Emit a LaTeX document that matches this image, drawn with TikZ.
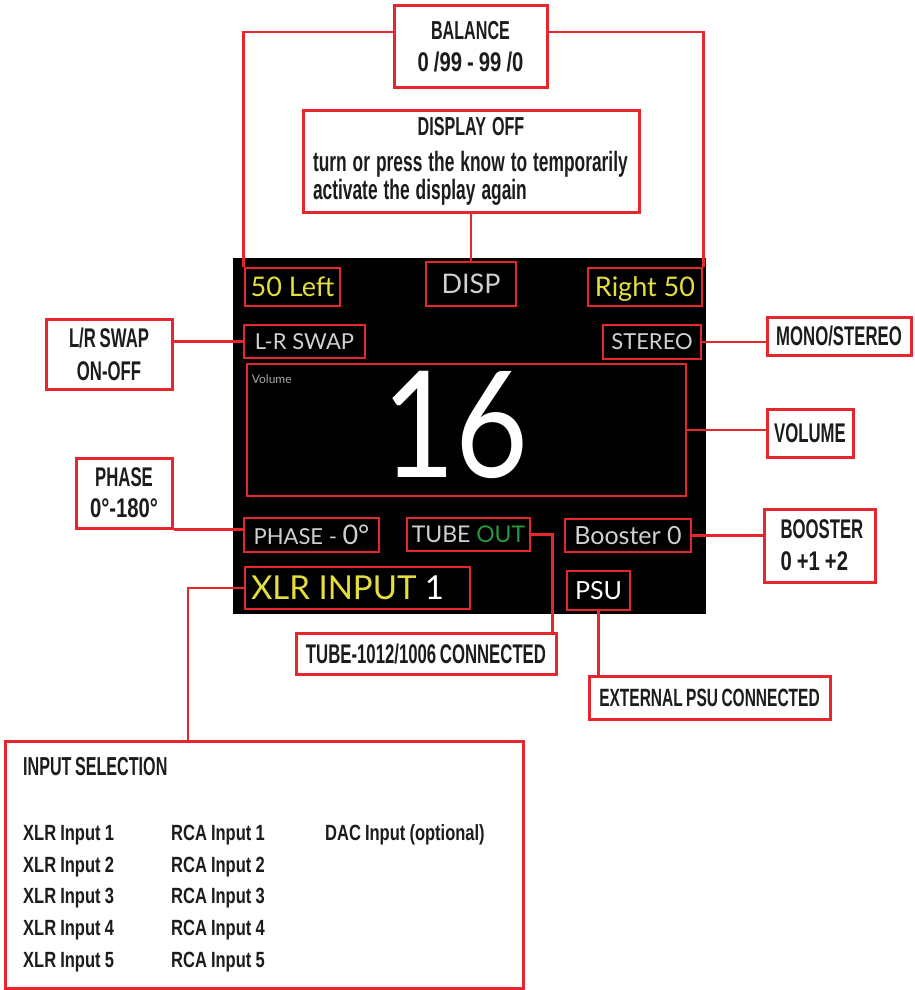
\documentclass[tikz,border=0pt]{standalone}
\usepackage{fontspec}
\usepackage{xcolor}
\usepackage{tikz}
\newfontfamily\capfont[FakeStretch=0.62, WordSpace=0.8]{Liberation Sans}
\newfontfamily\txtfont[FakeStretch=0.75, WordSpace=0.9]{Liberation Sans}
\newfontfamily\lcdfont{Lato}
\newfontfamily\numfont[FakeStretch=0.85]{Lato}
\definecolor{boxred}{RGB}{230,38,45}
\definecolor{lcdyellow}{RGB}{228,222,60}
\definecolor{lcdgrey}{RGB}{208,208,208}
\definecolor{lcdgreen}{RGB}{40,150,60}
\definecolor{inktext}{RGB}{28,28,28}

\begin{document}
\begin{tikzpicture}[x=1pt, y=-1pt,
    callout/.style={rectangle, draw=boxred, line width=3pt, fill=white, text=inktext, inner sep=2pt, align=center},
    lcdbox/.style={rectangle, draw=boxred, line width=2.6pt, inner sep=0pt, text=lcdgrey, text depth=0pt},
    wire/.style={draw=boxred, line width=2.6pt},
    listtxt/.style={anchor=base west, inner sep=0pt, text=inktext, font=\txtfont\bfseries\fontsize{22}{26}\selectfont}
]
\useasboundingbox (0,0) rectangle (915,990);

% Display screen
\fill[black] (233,258) rectangle (706,614);

% Display fields
\node[lcdbox, minimum width=95pt, minimum height=38pt, text=lcdyellow, text height=19.4pt, font=\lcdfont\fontsize{27}{30}\selectfont] (left50) at (292.5,287) {50 Left};
\node[lcdbox, minimum width=90pt, minimum height=44pt, text height=19.4pt, font=\lcdfont\fontsize{27}{30}\selectfont] (disp) at (471,284) {DISP};
\node[lcdbox, minimum width=114pt, minimum height=38pt, text=lcdyellow, text height=19.4pt, font=\lcdfont\fontsize{27}{30}\selectfont] (right50) at (645,287) {Right 50};
\node[lcdbox, minimum width=121pt, minimum height=33pt, text height=15.8pt, font=\lcdfont\fontsize{22}{26}\selectfont] (lrswap) at (304.5,341.5) {L-R SWAP};
\node[lcdbox, minimum width=98pt, minimum height=34pt, text height=15.8pt, font=\lcdfont\fontsize{22}{26}\selectfont] (stereo) at (652,342) {STEREO};
\node[lcdbox, minimum width=439pt, minimum height=132pt] (volbox) at (466.5,430) {};
\node[anchor=north west, inner sep=0pt, text=lcdgrey!80!black, font=\lcdfont\fontsize{12}{14}\selectfont] (voltag) at ([xshift=6pt,yshift=-12pt]volbox.north west) {Volume};
\node[inner sep=0pt, text=white, font=\numfont\fontsize{148}{148}\selectfont] (volnum) at (455,425) {16};
\node[lcdbox, minimum width=135pt, minimum height=34pt, text height=18pt, font=\lcdfont\fontsize{22}{26}\selectfont] (phasebox) at (311.5,535) {PHASE - {\fontsize{27}{30}\selectfont 0°}};
\node[lcdbox, minimum width=123pt, minimum height=33pt, text height=16.6pt, font=\lcdfont\fontsize{23}{26}\selectfont] (tubebox) at (468.5,534.5) {TUBE \textcolor{lcdgreen}{OUT}};
\node[lcdbox, minimum width=126pt, minimum height=33pt, text height=18pt, font=\lcdfont\fontsize{25}{28}\selectfont] (boostbox) at (628,535.5) {Booster 0};
\node[lcdbox, minimum width=225pt, minimum height=42pt, text width=213pt, align=left, text=lcdyellow, text height=23.8pt, font=\lcdfont\fontsize{33}{36}\selectfont] (xlrbox) at (357.5,588) {\spaceskip=0pt XLR INPUT \textcolor{white}{1}};
\node[lcdbox, minimum width=63pt, minimum height=39pt, text=white, text height=18pt, font=\lcdfont\fontsize{25}{28}\selectfont] (psubox) at (598.5,590.5) {PSU};

% Callout boxes
\node[callout, minimum width=153pt, minimum height=81pt, font=\txtfont\bfseries\fontsize{27}{32}\selectfont] (bal) at (470.5,46.5) {{\capfont\fontsize{26}{32}\selectfont BALANCE}\\0 /99 - 99 /0};
\node[callout, minimum width=336pt, minimum height=102pt, text width=316pt, align=left, font=\capfont\bfseries\fontsize{28}{28}\selectfont] (dispoff) at (471,161) {\spaceskip=6pt \makebox[316pt]{\fontsize{26}{28}\selectfont DISPLAY OFF}\\[8pt] turn or press the know to temporarily\\ activate the display again};
\node[callout, minimum width=126pt, minimum height=70pt, font=\capfont\bfseries\fontsize{27}{33}\selectfont] (lrlbl) at (109,354) {L/R SWAP\\ON-OFF};
\node[callout, minimum width=144pt, minimum height=38pt, font=\capfont\bfseries\fontsize{27}{32}\selectfont] (monolbl) at (839,336) {MONO/STEREO};
\node[callout, minimum width=86pt, minimum height=48pt, font=\capfont\bfseries\fontsize{27}{32}\selectfont] (vollbl) at (810,433) {VOLUME};
\node[callout, minimum width=96pt, minimum height=70pt, font=\capfont\bfseries\fontsize{27}{31}\selectfont] (phaselbl) at (124,493) {PHASE\\{\txtfont 0°-180°}};
\node[callout, minimum width=111pt, minimum height=73pt, text width=78pt, align=left, font=\capfont\bfseries\fontsize{27}{32}\selectfont] (boostlbl) at (819.5,545.5) {\spaceskip=0pt BOOSTER\\{\txtfont 0 +1 +2}};
\node[callout, minimum width=260pt, minimum height=41pt, font=\capfont\bfseries\fontsize{27}{32}\selectfont] (tubelbl) at (426,653.5) {TUBE-1012/1006 CONNECTED};
\node[callout, minimum width=241pt, minimum height=43pt, font=\capfont\bfseries\fontsize{25}{32}\selectfont] (psulbl) at (709.5,697.5) {EXTERNAL PSU CONNECTED};
\node[callout, minimum width=518pt, minimum height=247pt] (inputlbl) at (264,864.5) {};

% Input list
\node[listtxt, font=\capfont\bfseries\fontsize{26}{30}\selectfont] (intitle) at (23,775) {INPUT SELECTION};
\node[listtxt] (xlr1) at (23,840) {XLR Input 1};
\node[listtxt] (xlr2) at (23,872) {XLR Input 2};
\node[listtxt] (xlr3) at (23,903) {XLR Input 3};
\node[listtxt] (xlr4) at (23,935) {XLR Input 4};
\node[listtxt] (xlr5) at (23,967) {XLR Input 5};
\node[listtxt] (rca1) at (171,840) {RCA Input 1};
\node[listtxt] (rca2) at (171,872) {RCA Input 2};
\node[listtxt] (rca3) at (171,903) {RCA Input 3};
\node[listtxt] (rca4) at (171,935) {RCA Input 4};
\node[listtxt] (rca5) at (171,967) {RCA Input 5};
\node[listtxt] (dac) at (325,840) {DAC Input (optional)};

% Connectors
\draw[wire] ([yshift=14.5pt]bal.west) -| (left50.north west);
\draw[wire] ([yshift=14.5pt]bal.east) -| (right50.north east);
\draw[wire] (dispoff.south) -- (disp.north);
\draw[wire] (lrswap.west) -- (lrswap.west -| lrlbl.east);
\draw[wire] (stereo.east) -- (stereo.east -| monolbl.west);
\draw[wire] (volbox.east) -- (volbox.east -| vollbl.west);
\draw[wire] (phaselbl.south east) -- (phaselbl.south east -| phasebox.west);
\draw[wire] (tubebox.east) -| ([xshift=-5pt]tubelbl.north east);
\draw[wire] (boostbox.east) -- (boostbox.east -| boostlbl.west);
\draw[wire] (xlrbox.west) -| ([xshift=-76pt]inputlbl.north);
\draw[wire] (psubox.south) -- (psubox.south |- psulbl.north);

\end{tikzpicture}
\end{document}
